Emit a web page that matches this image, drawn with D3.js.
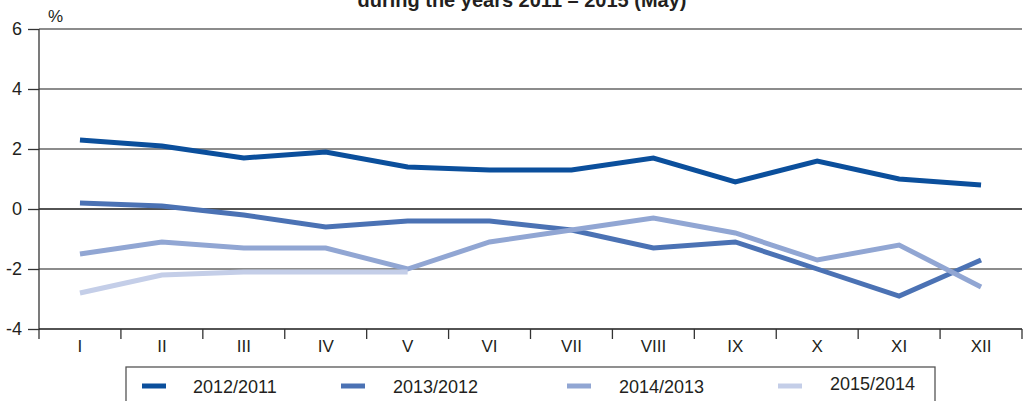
<!DOCTYPE html>
<html><head><meta charset="utf-8">
<script src="https://cdn.jsdelivr.net/npm/d3@7"></script>
<style>
body{margin:0;background:#fff}
svg{display:block}
text{font-family:"Liberation Sans",Arial,Helvetica,sans-serif;fill:#231f20}
</style>
</head><body><svg id="c" width="1025" height="401"></svg>
<script>
const months = ["I","II","III","IV","V","VI","VII","VIII","IX","X","XI","XII"];
const seriesNames = ["2012/2011","2013/2012","2014/2013","2015/2014"];
const s2012_2011 = [2.3,2.1,1.7,1.9,1.4,1.3,1.3,1.7,0.9,1.6,1.0,0.8];
const s2013_2012 = [0.2,0.1,-0.2,-0.6,-0.4,-0.4,-0.7,-1.3,-1.1,-2.0,-2.9,-1.7];
const s2014_2013 = [-1.5,-1.1,-1.3,-1.3,-2.0,-1.1,-0.7,-0.3,-0.8,-1.7,-1.2,-2.6];
const s2015_2014 = [-2.8,-2.2,-2.1,-2.1,-2.1,null,null,null,null,null,null,null];
const yTicks = [6,4,2,0,-2,-4];
const yTickLabels = ["6","4","2","0","-2","-4"];
const titleText = "during the years 2011 \u2013 2015 (May)";
const unitLabel = "%";

const seriesData = [s2012_2011, s2013_2012, s2014_2013, s2015_2014];
const colors = ["#0b4f9c","#4b72b4","#91a6d3","#c4cee8"];

const svg = d3.select("#c");
const L = 39, R = 1022, T = 29, B = 329;
const x = d3.scaleBand().domain(months).range([L, R]);
const y = d3.scaleLinear().domain([-4, 6]).range([B, T]);

// title (cut off at top as in the reference)
svg.append("text").attr("x", 522).attr("y", 7).attr("text-anchor","middle")
  .style("font-weight","bold").style("font-size","20px").text(titleText);

// grid lines
svg.append("g").selectAll("line").data(yTicks.filter(v => v !== -4)).join("line")
  .attr("x1", L).attr("x2", R).attr("y1", d => y(d)).attr("y2", d => y(d))
  .attr("stroke", d => d === 0 ? "#1a1a1a" : "#666").attr("stroke-width", 1.3);

// y axis
const yAxis = svg.append("g").attr("transform", `translate(${L},0)`)
  .call(d3.axisLeft(y).tickValues(yTicks).tickSize(11).tickPadding(6)
    .tickFormat((d,i) => yTickLabels[i]));
yAxis.select(".domain").remove();
yAxis.selectAll(".tick line").attr("stroke","#333").attr("stroke-width",1.3);
yAxis.selectAll(".tick text").style("font-size","18px").attr("fill","#231f20");
yAxis.append("line").attr("x1",0).attr("x2",0).attr("y1",T).attr("y2",B+10)
  .attr("stroke","#333").attr("stroke-width",1.3);

svg.append("text").attr("x", 48).attr("y", 22).style("font-size","17px").text(unitLabel);

// x axis
const xAxis = svg.append("g").attr("transform", `translate(0,${B})`)
  .call(d3.axisBottom(x).tickSize(0).tickPadding(11));
xAxis.select(".domain").remove();
xAxis.selectAll(".tick text").style("font-size","17px").attr("fill","#231f20");
xAxis.append("line").attr("x1",L).attr("x2",R).attr("y1",0).attr("y2",0)
  .attr("stroke","#1a1a1a").attr("stroke-width",1.3);
xAxis.append("g").selectAll("line").data(months).join("line")
  .attr("x1", d => x(d) + x.step()).attr("x2", d => x(d) + x.step())
  .attr("y1", 0).attr("y2", 10).attr("stroke","#333").attr("stroke-width",1.3);

// lines
const line = d3.line()
  .defined(d => d.v !== null)
  .x(d => x(d.m) + x.bandwidth()/2)
  .y(d => y(d.v));
svg.append("g").selectAll("path").data(seriesData).join("path")
  .attr("d", s => line(s.map((v,i) => ({m: months[i], v}))))
  .attr("fill","none").attr("stroke",(s,i) => colors[i]).attr("stroke-width",5)
  .attr("stroke-linejoin","miter");

// legend
svg.append("rect").attr("x",126).attr("y",367).attr("width",809).attr("height",60)
  .attr("fill","none").attr("stroke","#555").attr("stroke-width",1.3);
const swX = [142, 341, 567, 778];
const txX = [193, 393, 619, 830];
const txY = [393, 393, 393, 390];
const lg = svg.append("g").selectAll("g").data(seriesNames).join("g");
lg.append("line").attr("x1",(d,i)=>swX[i]).attr("x2",(d,i)=>swX[i]+24)
  .attr("y1",386).attr("y2",386).attr("stroke",(d,i)=>colors[i]).attr("stroke-width",5);
lg.append("text").attr("x",(d,i)=>txX[i]).attr("y",(d,i)=>txY[i])
  .style("font-size","18px").text(d=>d);
</script>
</body></html>
